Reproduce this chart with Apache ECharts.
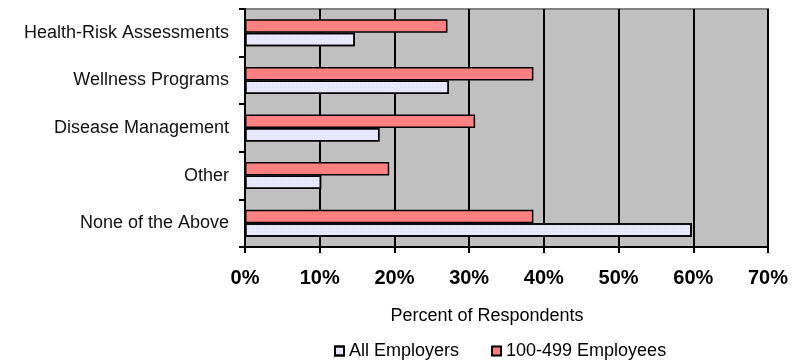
<!DOCTYPE html>
<html>
<head>
<meta charset="utf-8">
<script src="https://cdn.jsdelivr.net/npm/echarts@6/dist/echarts.min.js"></script>
<style>
  html, body { margin: 0; padding: 0; background: #fff; }
  #chart { width: 807px; height: 360px; }
</style>
</head>
<body>
<div id="chart"></div>
<script>
// Categories listed bottom-to-top along the value axis
const categories = ['None of the Above', 'Other', 'Disease Management', 'Wellness Programs', 'Health-Risk Assessments'];
const allEmployers = [0.598, 0.102, 0.180, 0.273, 0.147];
const midSizeEmployers = [0.386, 0.193, 0.308, 0.386, 0.271];
const percentTicks = [0, 0.1, 0.2, 0.3, 0.4, 0.5, 0.6, 0.7];

const chart = echarts.init(document.getElementById('chart'), null, { renderer: 'canvas' });

const font = 'Arial, "Liberation Sans", sans-serif';

chart.setOption({
  animation: false,
  backgroundColor: '#ffffff',
  title: {
    text: 'Percent of Respondents',
    left: 482,
    top: 302,
    textAlign: 'center',
    textStyle: { fontFamily: font, fontSize: 18, fontWeight: 'normal', color: '#000' }
  },
  legend: {
    data: ['All Employers', '100-499 Employees'],
    left: 329,
    top: 337,
    icon: 'rect',
    itemWidth: 9,
    itemHeight: 9,
    itemGap: 32,
    textStyle: { fontFamily: font, fontSize: 18, color: '#000' }
  },
  grid: {
    left: 245,
    right: 39,
    top: 9,
    bottom: 113,
    show: true,
    backgroundColor: '#C0C0C0',
    borderColor: '#808080',
    borderWidth: 2
  },
  xAxis: {
    type: 'value',
    min: percentTicks[0],
    max: percentTicks[percentTicks.length - 1],
    interval: 0.1,
    axisLine: { show: true, lineStyle: { color: '#000', width: 2 } },
    axisTick: { show: true, length: 6, lineStyle: { color: '#000', width: 2 } },
    splitLine: { show: true, lineStyle: { color: '#000', width: 2 } },
    axisLabel: {
      margin: 21,
      fontFamily: font,
      fontSize: 20,
      fontWeight: 'bold',
      color: '#000',
      formatter: v => Math.round(v * 100) + '%'
    }
  },
  yAxis: {
    type: 'category',
    data: categories,
    axisLine: { show: true, lineStyle: { color: '#000', width: 2 } },
    axisTick: { show: true, length: 6, lineStyle: { color: '#000', width: 2 } },
    splitLine: { show: false },
    axisLabel: {
      margin: 16,
      fontFamily: font,
      fontSize: 18,
      color: '#111'
    }
  },
  series: [
    {
      name: '100-499 Employees',
      type: 'bar',
      data: midSizeEmployers,
      barWidth: 13.5,
      barGap: '0%',
      itemStyle: {
        color: '#FF8080',
        borderColor: '#000',
        borderWidth: 1.5
      }
    },
    {
      name: 'All Employers',
      type: 'bar',
      data: allEmployers,
      barWidth: 13.5,
      barGap: '0%',
      itemStyle: {
        color: '#E8E8FF',
        borderColor: '#000',
        borderWidth: 1.5,
        decal: {
          symbol: 'rect',
          symbolSize: 0.5,
          dashArrayX: [2, 2],
          dashArrayY: [1, 2],
          rotation: 0,
          color: 'rgba(190,190,240,0.6)'
        }
      }
    }
  ]
});
</script>
</body>
</html>
